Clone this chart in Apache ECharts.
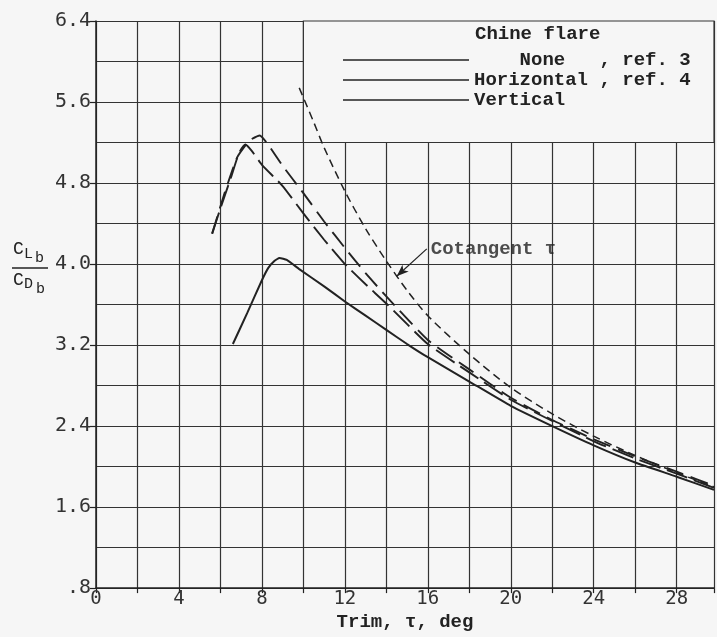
<!DOCTYPE html>
<html>
<head>
<meta charset="utf-8">
<script src="https://cdn.jsdelivr.net/npm/echarts@6/dist/echarts.min.js"></script>
<style>html,body{margin:0;padding:0;background:#f6f6f6;}#c{width:717px;height:637px;}</style>
</head>
<body>
<div id="c"></div>
<script>
// ---- data ----
const noneFlare = [[6.6,3.21],[7.3,3.52],[8.0,3.84],[8.3,3.96],[8.6,4.03],[8.85,4.06],[9.2,4.04],[9.8,3.95],[11,3.78],[12,3.63],[13,3.49],[14,3.35],[15,3.21],[16,3.08],[18,2.84],[20,2.60],[22,2.40],[24,2.21],[26,2.04],[28,1.90],[29.8,1.77]];
const horizontalFlare = [[5.6,4.30],[6.2,4.70],[6.8,5.05],[7.4,5.22],[7.9,5.27],[8.3,5.18],[9,4.97],[10,4.70],[11,4.42],[12,4.16],[13,3.91],[14,3.68],[16,3.25],[18,2.96],[20,2.68],[22,2.46],[24,2.27],[26,2.10],[28,1.95],[29.8,1.81]];
const verticalFlare = [[5.6,4.30],[6.0,4.55],[6.5,4.85],[6.9,5.10],[7.2,5.18],[7.5,5.12],[8,4.98],[9,4.77],[10,4.50],[11,4.24],[12,4.00],[13,3.80],[14,3.61],[16,3.21],[18,2.93],[20,2.66],[22,2.45],[24,2.25],[26,2.08],[28,1.93],[29.8,1.79]];
const cotangent = [[9.8,5.74],[10.5,5.40],[11,5.15],[12,4.72],[13,4.35],[14,4.03],[15,3.74],[16,3.49],[18,3.11],[20,2.78],[22,2.52],[24,2.30],[26,2.11],[28,1.94],[29.8,1.80]];
const legendNames = ['None','Horizontal','Vertical'];
const legendTexts = {None:'    None   , ref. 3', Horizontal:'Horizontal , ref. 4', Vertical:'Vertical'};
const legendTitle = 'Chine flare';
const cotLabel = 'Cotangent τ';
const cotLabelPoint = [15.95, 4.15];
const cotArrowTip = [14.5, 3.88];
const legendBox = [[10, 5.2], [29.8, 6.4]];
const xRange = [0, 29.8];
const yRange = [0.8, 6.4];
const xName = 'Trim, τ, deg';

const BG = '#f6f6f6';
const INK = '#222';
const mono = 'Liberation Mono';
const digits = 'DejaVu Sans Mono';

const chart = echarts.init(document.getElementById('c'), null, {renderer:'canvas'});

const gridLine = {color:'#333', width:1.2};

chart.setOption({
  backgroundColor: BG,
  animation: false,
  grid: {left:96, top:21, right:2, bottom:40},
  title: {text: legendTitle, left:475, top:25, padding:0,
    textStyle:{fontFamily:mono, fontSize:19, fontWeight:'bold', color:INK}},
  legend: {
    data: legendNames, orient:'vertical', left:343, top:50, padding:0,
    icon:'rect', itemWidth:126, itemHeight:1.6, itemGap:0, selectedMode:false,
    itemStyle:{color:INK, borderWidth:0},
    formatter: n => legendTexts[n],
    textStyle:{fontFamily:mono, fontSize:19, lineHeight:20, fontWeight:'bold', color:INK}
  },
  xAxis: {
    type:'value', min:xRange[0], max:xRange[1], interval:2,
    name:xName, nameLocation:'middle', nameGap:19,
    nameTextStyle:{fontFamily:mono, fontSize:19, fontWeight:'bold', color:INK},
    axisLine:{show:true, lineStyle:{color:INK, width:1.5}},
    axisTick:{show:true, length:5, lineStyle:{color:INK, width:1.2}},
    axisLabel:{margin:1, fontFamily:digits, fontSize:19, color:'#333',
      formatter: v => (Math.abs(v % 4) < 1e-6 ? String(v) : '')},
    splitLine:{show:true, lineStyle:gridLine}
  },
  yAxis: {
    type:'value', min:yRange[0], max:yRange[1], interval:0.8,
    axisLine:{show:true, lineStyle:{color:INK, width:1.5}},
    axisTick:{show:true, length:6, lineStyle:{color:INK, width:1.2}},
    axisLabel:{margin:5, fontFamily:digits, fontSize:20, color:'#333',
      formatter: v => (v < 1 ? '.8' : v.toFixed(1))},
    splitLine:{show:true, lineStyle:gridLine},
    minorTick:{show:false, splitNumber:2},
    minorSplitLine:{show:true, lineStyle:gridLine}
  },
  series: [
    {name:'None', type:'line', data:noneFlare, symbol:'none', smooth:0.15, z:3,
      lineStyle:{color:INK, width:2, type:'solid'}, itemStyle:{color:INK},
      markArea:{silent:true, itemStyle:{color:BG, borderColor:'#333', borderWidth:1.2},
        data:[[{coord:legendBox[0]},{coord:legendBox[1]}]]}},
    {name:'Horizontal', type:'line', data:horizontalFlare, symbol:'none', smooth:0.15, z:3,
      lineStyle:{color:INK, width:1.9, type:[18,8]}, itemStyle:{color:INK}},
    {name:'Vertical', type:'line', data:verticalFlare, symbol:'none', smooth:0.15, z:3,
      lineStyle:{color:INK, width:1.9, type:[22,7]}, itemStyle:{color:INK}},
    {name:'Cotangent', type:'line', data:cotangent, symbol:'none', smooth:0.3, z:3,
      lineStyle:{color:INK, width:1.5, type:[8,5]}, itemStyle:{color:INK},
      markLine:{silent:true, symbol:['none','arrow'], symbolSize:[7,12],
        lineStyle:{type:'solid', color:INK, width:1.2}, label:{show:false},
        data:[[{coord:cotLabelPoint},{coord:cotArrowTip}]]}},
    {name:'label', type:'scatter', data:[cotLabelPoint], symbolSize:0, z:4, silent:true,
      label:{show:true, position:'right', distance:4, formatter:cotLabel,
        fontFamily:mono, fontSize:19, fontWeight:'bold', color:INK}}
  ],
  graphic: [
    {type:'text', left:13, top:240, style:{text:'C', font:'18px "Liberation Mono"', fill:INK}},
    {type:'text', left:24, top:247, style:{text:'L', font:'15px "Liberation Mono"', fill:INK}},
    {type:'text', left:35, top:251, style:{text:'b', font:'15px "Liberation Mono"', fill:INK}},
    {type:'line', shape:{x1:12, y1:268, x2:48, y2:268}, style:{stroke:INK, lineWidth:1.6}},
    {type:'text', left:13, top:271, style:{text:'C', font:'18px "Liberation Mono"', fill:INK}},
    {type:'text', left:24, top:277, style:{text:'D', font:'15px "Liberation Mono"', fill:INK}},
    {type:'text', left:36, top:282, style:{text:'b', font:'15px "Liberation Mono"', fill:INK}}
  ]
});
</script>
</body>
</html>
